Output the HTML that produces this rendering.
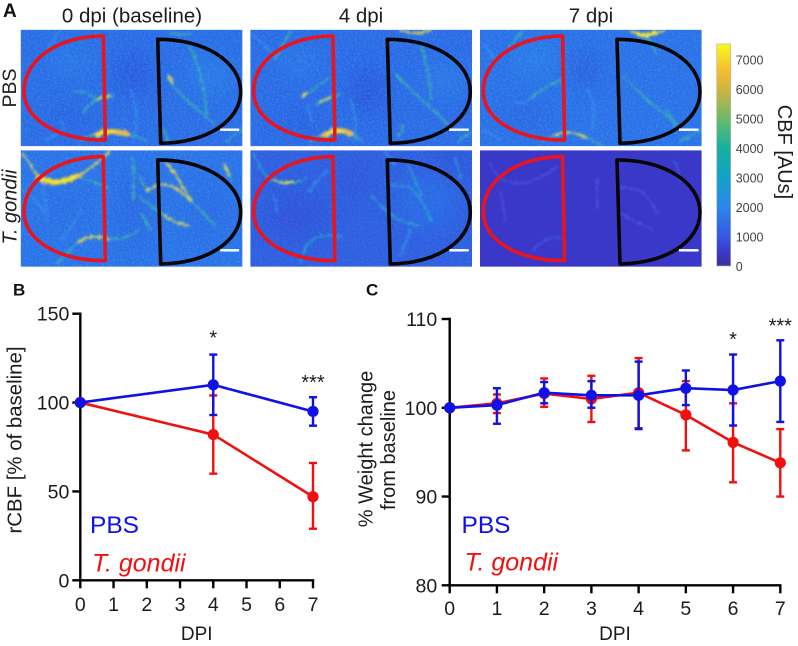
<!DOCTYPE html>
<html>
<head>
<meta charset="utf-8">
<style>
html,body{margin:0;padding:0;background:#fff;width:798px;height:646px;overflow:hidden}
svg{display:block;font-family:"Liberation Sans",Arial,sans-serif;filter:blur(0.35px)}
.v{fill:none;stroke-linecap:round;stroke-linejoin:round}
.y{stroke:#e6dc48;stroke-width:2.2;opacity:.85}
.yb{stroke:#f8e828;stroke-width:3.6}
.o{stroke:#e8c040;stroke-width:6}
.g{stroke:#38b8a8;stroke-width:2;opacity:.8}
.t{stroke:#28a0d0;stroke-width:2.2;opacity:.8}
.c{stroke:#2f88ea;stroke-width:2.6;opacity:.8}
.d{stroke:#4a5ee8;stroke-width:1.8;opacity:.7}
.roiR{fill:none;stroke:#e8141e;stroke-width:3.6;stroke-linejoin:round}
.roiB{fill:none;stroke:#050505;stroke-width:3.6;stroke-linejoin:round}
.lab{fill:#1c1c1c}
</style>
</head>
<body>
<svg id="fig" width="798" height="646" viewBox="0 0 798 646" xmlns="http://www.w3.org/2000/svg">
<defs>
<filter id="vf" filterUnits="userSpaceOnUse" x="-5" y="-5" width="232" height="127"><feTurbulence type="fractalNoise" baseFrequency="0.3" numOctaves="2" seed="7" result="n"/><feDisplacementMap in="SourceGraphic" in2="n" scale="5" xChannelSelector="R" yChannelSelector="G"/><feGaussianBlur stdDeviation="1"/></filter>
<filter id="blur9" x="-30%" y="-30%" width="160%" height="160%"><feGaussianBlur stdDeviation="10"/></filter>
<filter id="noise" x="0" y="0" width="100%" height="100%"><feTurbulence type="fractalNoise" baseFrequency="0.55" numOctaves="2" seed="4"/><feColorMatrix values="0 0 0 0 0.16  0 0 0 0 0.52  0 0 0 0 0.95  1.4 0 0 0 -0.55"/></filter>
<clipPath id="pc"><rect width="221.7" height="116.5"/></clipPath>
<linearGradient id="parula" x1="0" y1="1" x2="0" y2="0">
<stop offset="0" stop-color="#3a2ea0"/><stop offset="0.07" stop-color="#3a3ccc"/><stop offset="0.135" stop-color="#3658e2"/><stop offset="0.265" stop-color="#2a86ec"/><stop offset="0.4" stop-color="#12a2c8"/><stop offset="0.53" stop-color="#14b0a0"/><stop offset="0.66" stop-color="#68ba6c"/><stop offset="0.79" stop-color="#cdb43e"/><stop offset="0.88" stop-color="#f6bc30"/><stop offset="1" stop-color="#f8f81e"/>
</linearGradient>
</defs>

<text x="3" y="17" font-size="19" font-weight="bold" fill="#111">A</text>
<text class="lab" x="132" y="22.5" font-size="20.5" text-anchor="middle">0 dpi (baseline)</text>
<text class="lab" x="361" y="22.5" font-size="20.5" text-anchor="middle">4 dpi</text>
<text class="lab" x="591" y="22.5" font-size="20.5" text-anchor="middle">7 dpi</text>
<text class="lab" transform="translate(16,88) rotate(-90)" font-size="19.5" text-anchor="middle">PBS</text>
<text class="lab" transform="translate(16.5,207) rotate(-90)" font-size="20" font-style="italic" text-anchor="middle">T. gondii</text>

<!-- PBS 0 dpi -->
<g transform="translate(20.7,29.7)">
<g clip-path="url(#pc)">
<rect width="221.7" height="116.5" fill="#2a6ce6"/>
<g filter="url(#blur9)" opacity=".6"><ellipse cx="112" cy="45" rx="22" ry="26" fill="#2c54dc"/><ellipse cx="50" cy="90" rx="24" ry="14" fill="#2c5cdf"/><ellipse cx="190" cy="45" rx="24" ry="22" fill="#2a80ea"/><ellipse cx="50" cy="30" rx="24" ry="14" fill="#2a80ea"/></g>
<g filter="url(#vf)">
<path class="v c" d="M25 110Q50 100 40 92M110 60Q120 85 112 112M40 0Q32 12 26 22"/>
<path class="v g" d="M63 83Q68 74 76 70Q84 66 93 67M52 62Q65 60 76 70M146 48Q155 60 166 70Q180 82 193 94M169 17Q176 30 179 44Q184 60 186 84M205 112L221 100M143 100L147 112"/>
<path class="v y" d="M78 69L88 66M148 46L152 52"/>
<path class="v g" d="M150 3Q160 6 170 4"/>
<path class="v g" d="M60 111Q90 92 126 112"/>
<path class="v o" d="M76 105Q85 100 106 104"/>
<path class="v yb" d="M78 105Q85 101 94 103"/>
</g>
<rect width="221.7" height="116.5" filter="url(#noise)" opacity=".45"/>
</g>
<path class="roiR" d="M82.6 6.3C40 6.3 3.3 28 3.3 61.5C3.3 92 42 111 84.6 110.3Z"/>
<path class="roiB" d="M137 9.6C184 9.3 220 32 220 62C220 92 184 113.5 140 113.6Z"/>
<rect x="199.5" y="98.8" width="19" height="2.4" fill="#fff"/>
</g>

<!-- PBS 4 dpi -->
<g transform="translate(250.3,29.7)">
<g clip-path="url(#pc)">
<rect width="221.7" height="116.5" fill="#2a6ae6"/>
<g filter="url(#blur9)" opacity=".6"><ellipse cx="118" cy="62" rx="18" ry="24" fill="#2c4ed8"/><ellipse cx="52" cy="92" rx="24" ry="14" fill="#2c5cdf"/><ellipse cx="50" cy="32" rx="24" ry="14" fill="#2a80ea"/><ellipse cx="195" cy="50" rx="20" ry="20" fill="#2a80ea"/></g>
<g filter="url(#vf)">
<path class="v c" d="M2 5Q15 15 25 28M62 92Q58 84 58 75M100 70Q108 90 104 112"/>
<path class="v g" d="M40 2Q33 15 25 29M55 65L78 49M66 74Q78 68 90 65M171 15Q175 30 178 45Q180 58 181 69M146 45Q155 55 168 67Q185 82 198 95M208 112L221 102M148 108L153 96"/>
<path class="v y" d="M53 66L57 63M70 72L80 68M150 0Q165 7 180 0"/>
<path class="v g" d="M60 112Q88 92 110 110"/>
<path class="v o" d="M74 106Q85 97 100 104"/>
<path class="v yb" d="M78 104Q85 100 93 103"/>
</g>
<rect width="221.7" height="116.5" filter="url(#noise)" opacity=".45"/>
</g>
<path class="roiR" d="M82.6 6.3C40 6.3 3.3 28 3.3 61.5C3.3 92 42 111 84.6 110.3Z"/>
<path class="roiB" d="M137 9.6C184 9.3 220 32 220 62C220 92 184 113.5 140 113.6Z"/>
<rect x="199" y="98.8" width="19.5" height="2.4" fill="#fff"/>
</g>

<!-- PBS 7 dpi -->
<g transform="translate(480,29.7)">
<g clip-path="url(#pc)">
<rect width="221.7" height="116.5" fill="#2a70e8"/>
<g filter="url(#blur9)" opacity=".6"><ellipse cx="105" cy="40" rx="18" ry="16" fill="#2c58dc"/><ellipse cx="45" cy="85" rx="24" ry="16" fill="#2c62e0"/><ellipse cx="55" cy="30" rx="24" ry="16" fill="#2a84ec"/></g>
<g filter="url(#vf)">
<path class="v c" d="M53 67Q42 76 34 72M106 60Q118 70 112 100M5 15L15 30M2 100L20 110"/>
<path class="v g" d="M43 0Q36 10 30 17M53 67Q60 60 67 57Q74 53 80 50M143 47Q155 58 167 70Q182 82 197 94M167 7L177 24M200 112L221 100M187 80L197 100"/>
<path class="v g" d="M62 112Q90 94 122 116"/>
<path class="v y" d="M74 106Q90 99 106 108M150 1Q165 9 185 0"/>
<path class="v yb" d="M158 4Q166 7 175 3"/>
</g>
<rect width="221.7" height="116.5" filter="url(#noise)" opacity=".45"/>
</g>
<path class="roiR" d="M82.6 6.3C40 6.3 3.3 28 3.3 61.5C3.3 92 42 111 84.6 110.3Z"/>
<path class="roiB" d="M137 9.6C184 9.3 220 32 220 62C220 92 184 113.5 140 113.6Z"/>
<rect x="199" y="98.8" width="19.5" height="2.4" fill="#fff"/>
</g>

<!-- T. gondii 0 dpi -->
<g transform="translate(20.7,150.3)">
<g clip-path="url(#pc)">
<rect width="221.7" height="116.5" fill="#2a72e8"/>
<g filter="url(#blur9)" opacity=".6"><ellipse cx="112" cy="60" rx="14" ry="40" fill="#2a60e0"/><ellipse cx="45" cy="60" rx="26" ry="16" fill="#2a6ae4"/><ellipse cx="190" cy="60" rx="22" ry="24" fill="#2a66e2"/></g>
<g filter="url(#vf)">
<path class="v c" d="M22 32Q25 50 26 70M2 38Q12 45 22 60M60 60Q50 80 40 90"/>
<path class="v g" d="M60 28Q78 32 88 38M36 113L56 93M89 88Q105 90 118 80M118 46Q130 55 143 65M112 8Q115 30 112 50M126 40L118 25M171 51Q180 60 195 76M203 13L211 30M120 62L130 80"/>
<path class="v y" d="M2 3Q10 15 16 25M59 25Q70 18 79 10Q85 5 89 1M146 13Q155 22 160 33Q165 42 171 51M126 40Q140 32 149 35Q160 40 169 50M143 65Q155 74 169 75M203 13L208 24"/>
<path class="v y" d="M148 15L153 22M58 92Q68 84 88 88" style="stroke-width:3"/>
<path class="v o" d="M17 27Q30 34 42 31Q52 28 59 25" style="stroke-width:5.5"/>
<path class="v yb" d="M20 28Q30 33 42 31Q50 28 55 26"/>
</g>
<rect width="221.7" height="116.5" filter="url(#noise)" opacity=".45"/>
</g>
<path class="roiR" d="M82.6 6.3C40 6.3 3.3 28 3.3 61.5C3.3 92 42 111 84.6 110.3Z"/>
<path class="roiB" d="M137 9.6C184 9.3 220 32 220 62C220 92 184 113.5 140 113.6Z"/>
<rect x="199.5" y="98.8" width="19" height="2.4" fill="#fff"/>
</g>

<!-- T. gondii 4 dpi -->
<g transform="translate(250.3,150.3)">
<g clip-path="url(#pc)">
<rect width="221.7" height="116.5" fill="#2f5ee0"/>
<g filter="url(#blur9)" opacity=".7"><ellipse cx="45" cy="65" rx="30" ry="22" fill="#3250d8"/><ellipse cx="105" cy="30" rx="16" ry="18" fill="#3252da"/><ellipse cx="175" cy="50" rx="30" ry="30" fill="#2c6ee6"/><ellipse cx="200" cy="10" rx="20" ry="12" fill="#3250d8"/></g>
<g filter="url(#vf)">
<path class="v c" d="M23 45Q28 55 26 62M58 42Q68 28 78 20M150 105L160 80M135 2L145 15"/>
<path class="v t" d="M3 3Q8 15 15 25M56 95Q63 88 71 86Q80 84 91 86M50 112L56 95M138 35Q150 34 161 38Q172 48 181 71M121 45Q130 55 141 65Q155 74 171 75M158 15L171 45M205 8L210 28"/>
<path class="v g" d="M15 25Q25 33 35 33Q46 33 56 28"/>
<path class="v y" d="M24 30Q32 34 42 32"/>
</g>
<rect width="221.7" height="116.5" filter="url(#noise)" opacity=".3"/>
</g>
<path class="roiR" d="M82.6 6.3C40 6.3 3.3 28 3.3 61.5C3.3 92 42 111 84.6 110.3Z"/>
<path class="roiB" d="M137 9.6C184 9.3 220 32 220 62C220 92 184 113.5 140 113.6Z"/>
<rect x="199" y="98.8" width="19.5" height="2.4" fill="#fff"/>
</g>

<!-- T. gondii 7 dpi -->
<g transform="translate(480,150.3)">
<g clip-path="url(#pc)">
<rect width="221.7" height="116.5" fill="#3a38c8"/>
<g filter="url(#vf)">
<path class="v d" d="M10 13Q15 25 23 30Q32 34 43 33Q60 30 77 16M53 100Q62 90 70 88Q76 87 83 88M20 43Q24 55 25 70M140 37Q150 38 160 40Q170 48 177 63M140 63L173 80M117 27V57M195 10L200 30"/>
</g>
</g>
<path class="roiR" d="M82.6 6.3C40 6.3 3.3 28 3.3 61.5C3.3 92 42 111 84.6 110.3Z"/>
<path class="roiB" d="M137 9.6C184 9.3 220 32 220 62C220 92 184 113.5 140 113.6Z"/>
<rect x="199" y="98.8" width="19.5" height="2.4" fill="#fff"/>
</g>

<rect x="716.7" y="44" width="14" height="222" fill="url(#parula)" stroke="#b8b8a8" stroke-width="0.7"/>
<g id="cbticks"></g>
<text class="lab" transform="translate(778,152) rotate(90)" font-size="20" text-anchor="middle">CBF [AUs]</text>

<text x="13" y="295.5" font-size="17" font-weight="bold" fill="#111">B</text>
<text x="366" y="295.5" font-size="17" font-weight="bold" fill="#111">C</text>

<g id="chartB"></g>
<g id="chartC"></g>
</svg>

<script>
// Colorbar
const cbTicks = [0, 1000, 2000, 3000, 4000, 5000, 6000, 7000];

// Panel B: rCBF
const bDays = [0, 4, 7];
const bXTicks = [0, 1, 2, 3, 4, 5, 6, 7];
const bYTicks = [0, 50, 100, 150];
const bPbsMean = [100, 110, 95];
const bPbsUpper = [100, 127, 103];
const bPbsLower = [100, 93, 87];
const bTgMean = [100, 82, 47];
const bTgUpper = [100, 104, 66];
const bTgLower = [100, 60, 29];

// Panel C: weight
const cDays = [0, 1, 2, 3, 4, 5, 6, 7];
const cXTicks = [0, 1, 2, 3, 4, 5, 6, 7];
const cYTicks = [80, 90, 100, 110];
const cPbsMean = [100, 100.3, 101.7, 101.4, 101.4, 102.2, 102, 103];
const cPbsUpper = [100, 102.2, 102.9, 103, 105.2, 104.2, 106, 107.6];
const cPbsLower = [100, 98.2, 100.5, 100, 97.6, 100.3, 98, 98.4];
const cTgMean = [100, 100.5, 101.6, 101, 101.7, 99.2, 96.1, 93.8];
const cTgUpper = [100, 101.5, 103.3, 103.6, 105.6, 103, 100.5, 97.6];
const cTgLower = [100, 99.4, 100.1, 98.4, 97.7, 95.2, 91.6, 90];

const NS = 'http://www.w3.org/2000/svg';
function mk(parent, tag, attrs, name, txt) {
  const el = document.createElementNS(NS, tag);
  for (const k in attrs) el.setAttribute(k, attrs[k]);
  
  
  if (txt !== undefined) el.textContent = txt;
  parent.appendChild(el);
  return el;
}

const cbG = document.getElementById('cbticks');
const cbY = v => 266.7 - v * 0.0295;
cbTicks.forEach(v => {
  mk(cbG, 'text', {x: 735.7, y: cbY(v) + 4.4, 'font-size': 12.5, fill: '#444'}, 'colorbar-tick-label', String(v));
});

function series(g, xf, yf, days, mean, up, lo, col, key) {
  days.forEach((d, i) => {
    if (up[i] === lo[i]) return;
    const x = xf(d);
    mk(g, 'line', {x1: x, x2: x, y1: yf(up[i]), y2: yf(lo[i]), stroke: col, 'stroke-width': 2.4}, key + '-error-bar');
    mk(g, 'line', {x1: x - 4, x2: x + 4, y1: yf(up[i]), y2: yf(up[i]), stroke: col, 'stroke-width': 2.4}, key + '-error-cap-upper');
    mk(g, 'line', {x1: x - 4, x2: x + 4, y1: yf(lo[i]), y2: yf(lo[i]), stroke: col, 'stroke-width': 2.4}, key + '-error-cap-lower');
  });
  const pts = days.map((d, i) => xf(d) + ',' + yf(mean[i])).join(' ');
  mk(g, 'polyline', {points: pts, fill: 'none', stroke: col, 'stroke-width': 2.6}, key + '-line');
  days.forEach((d, i) => {
    mk(g, 'circle', {cx: xf(d), cy: yf(mean[i]), r: 5.6, fill: col}, key + '-point');
  });
}

function axes(g, xf, yf, xTicks, yTicks, xBase, labelGap) {
  const x0 = xf(xTicks[0]), x1 = xf(xTicks[xTicks.length - 1]);
  const y0 = yf(yTicks[0]), y1 = yf(yTicks[yTicks.length - 1]);
  mk(g, 'line', {x1: x0, x2: x0, y1: y1 - 1.2, y2: y0 + 1.2, stroke: '#000', 'stroke-width': 2.4}, 'y-axis');
  mk(g, 'line', {x1: x0 - 1.2, x2: x1 + 1.2, y1: y0, y2: y0, stroke: '#000', 'stroke-width': 2.4}, 'x-axis');
  yTicks.forEach(v => {
    mk(g, 'line', {x1: x0 - 8, x2: x0, y1: yf(v), y2: yf(v), stroke: '#000', 'stroke-width': 2.4}, 'y-tick');
    mk(g, 'text', {x: x0 - labelGap, y: yf(v) + 7, 'font-size': 19.5, 'text-anchor': 'end', fill: '#1c1c1c'}, 'y-tick-label', String(v));
  });
  xTicks.forEach(v => {
    mk(g, 'line', {x1: xf(v), x2: xf(v), y1: y0, y2: y0 + 8, stroke: '#000', 'stroke-width': 2.4}, 'x-tick');
    mk(g, 'text', {x: xf(v), y: xBase, 'font-size': 19.5, 'text-anchor': 'middle', fill: '#1c1c1c'}, 'x-tick-label', String(v));
  });
}

function star(g, x, cy, s) {
  mk(g, 'text', {x: x, y: cy + 11.5, 'font-size': 20, 'text-anchor': 'middle', fill: '#1c1c1c'}, 'significance-marker', s);
}

// Panel B
const gB = document.getElementById('chartB');
const bx = d => 80.3 + d * (313 - 80.3) / 7;
const by = v => 580.3 - v * (580.3 - 313.7) / 150;
axes(gB, bx, by, bXTicks, bYTicks, 611, 11);
series(gB, bx, by, bDays, bTgMean, bTgUpper, bTgLower, '#f01010', 'tgondii');
series(gB, bx, by, bDays, bPbsMean, bPbsUpper, bPbsLower, '#1010e8', 'pbs');
star(gB, bx(4), 333, '*');
star(gB, bx(7), 377.7, '***');
mk(gB, 'text', {transform: 'translate(21.5,440) rotate(-90)', 'font-size': 20.4, 'text-anchor': 'middle', fill: '#1c1c1c'}, 'y-axis-title', 'rCBF [% of baseline]');
mk(gB, 'text', {x: 196.7, y: 640, 'font-size': 19, 'text-anchor': 'middle', fill: '#1c1c1c'}, 'x-axis-title', 'DPI');
mk(gB, 'text', {x: 90, y: 533, 'font-size': 24.5, fill: '#1010e8'}, 'legend-entry-pbs', 'PBS');
mk(gB, 'text', {x: 92, y: 571.5, 'font-size': 25, 'font-style': 'italic', fill: '#f01010'}, 'legend-entry-t-gondii', 'T. gondii');

// Panel C
const gC = document.getElementById('chartC');
const cx = d => 449.7 + d * (780.3 - 449.7) / 7;
const cy = v => 585.3 - (v - 80) * (585.3 - 319) / 30;
axes(gC, cx, cy, cXTicks, cYTicks, 615, 12.5);
series(gC, cx, cy, cDays, cTgMean, cTgUpper, cTgLower, '#f01010', 'tgondii');
series(gC, cx, cy, cDays, cPbsMean, cPbsUpper, cPbsLower, '#1010e8', 'pbs');
star(gC, cx(6), 334.3, '*');
star(gC, cx(7), 321, '***');
mk(gC, 'text', {transform: 'translate(372.7,449) rotate(-90)', 'font-size': 20, 'text-anchor': 'middle', fill: '#1c1c1c'}, 'y-axis-title-line-1', '% Weight change');
mk(gC, 'text', {transform: 'translate(395,450) rotate(-90)', 'font-size': 20, 'text-anchor': 'middle', fill: '#1c1c1c'}, 'y-axis-title-line-2', 'from baseline');
mk(gC, 'text', {x: 615, y: 640, 'font-size': 19, 'text-anchor': 'middle', fill: '#1c1c1c'}, 'x-axis-title', 'DPI');
mk(gC, 'text', {x: 461.5, y: 533, 'font-size': 24.5, fill: '#1010e8'}, 'legend-entry-pbs', 'PBS');
mk(gC, 'text', {x: 464.5, y: 570.7, 'font-size': 25, 'font-style': 'italic', fill: '#f01010'}, 'legend-entry-t-gondii', 'T. gondii');
</script>
</body>
</html>
